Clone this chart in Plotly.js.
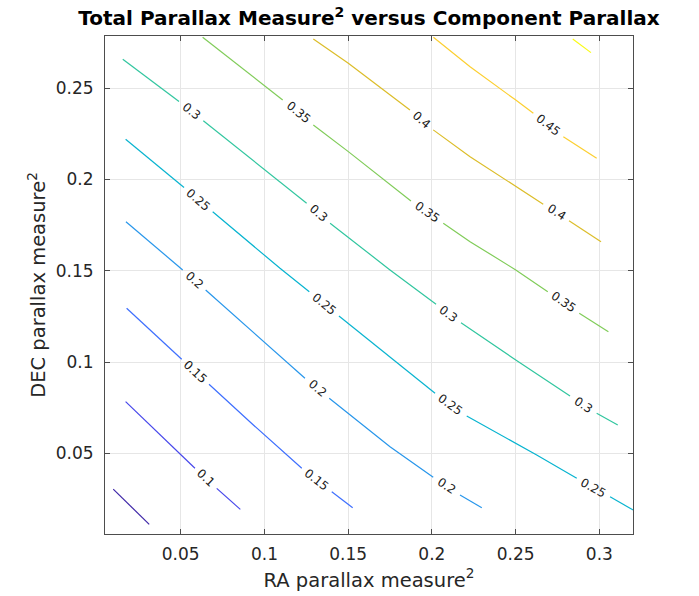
<!DOCTYPE html>
<html>
<head>
<meta charset="utf-8">
<script src="https://cdn.plot.ly/plotly-3.0.1.min.js"></script>
<style>html,body{margin:0;padding:0;background:#fff}</style>
</head>
<body>
<div id="chart" style="width:699px;height:596px"></div>
<script>
// Contour levels
const levels = [0.05, 0.1, 0.15, 0.2, 0.25, 0.3, 0.35, 0.4, 0.45, 0.5];

// Contour line vertices (null = gap where the level label sits)
const c05x = [0.0097, 0.0312];
const c05y = [0.0304, 0.0111];
const c10x = [0.0171, 0.0585, null, 0.0715, 0.0856];
const c10y = [0.0783, 0.0418, null, 0.0308, 0.0193];
const c15x = [0.0177, 0.0506, null, 0.0669, 0.0934, 0.1223, null, 0.1402, 0.1527];
const c15y = [0.1294, 0.1015, null, 0.0878, 0.0655, 0.0418, null, 0.0290, 0.0202];
const c20x = [0.0173, 0.0512, null, 0.0649, 0.1242, null, 0.1387, 0.1501, 0.1750, 0.2008, null, 0.2168, 0.2298];
const c20y = [0.1768, 0.1504, null, 0.1394, 0.0911, null, 0.0801, 0.0719, 0.0536, 0.0369, null, 0.0272, 0.0202];
const c25x = [0.0171, 0.0520, null, 0.0691, 0.1093, 0.1268, null, 0.1445, 0.1750, 0.2019, null, 0.2208, 0.2501, 0.2626, 0.2865, null, 0.3064, 0.3203];
const c25y = [0.2220, 0.1955, null, 0.1823, 0.1513, 0.1385, null, 0.1252, 0.1028, 0.0829, null, 0.0704, 0.0555, 0.0491, 0.0363, null, 0.0262, 0.0189];
const c30x = [0.0154, 0.0490, null, 0.0635, 0.1093, 0.1252, null, 0.1392, 0.1750, 0.2025, null, 0.2174, 0.2501, 0.2825, null, 0.2984, 0.3110];
const c30y = [0.2658, 0.2426, null, 0.2321, 0.1987, 0.1869, null, 0.1760, 0.1504, 0.1316, null, 0.1215, 0.1011, 0.0814, null, 0.0719, 0.0655];
const c35x = [0.0631, 0.1109, null, 0.1292, 0.1501, 0.1875, null, 0.2068, 0.2228, 0.2501, 0.2692, null, 0.2880, 0.3054];
const c35y = [0.2778, 0.2435, null, 0.2298, 0.2152, 0.1882, null, 0.1760, 0.1659, 0.1504, 0.1385, null, 0.1267, 0.1166];
const c40x = [0.1292, 0.1501, 0.1869, null, 0.2008, 0.2228, 0.2665, null, 0.2819, 0.3010];
const c40y = [0.2769, 0.2636, 0.2380, null, 0.2271, 0.2124, 0.1864, null, 0.1774, 0.1659];
const c45x = [0.2009, 0.2228, 0.2501, 0.2606, null, 0.2785, 0.2984];
const c45y = [0.2778, 0.2617, 0.2434, 0.2362, null, 0.2234, 0.2116];
const c50x = [0.2841, 0.2950];
const c50y = [0.2769, 0.2694];

// Tick labels
const xTickVals = [0.05, 0.1, 0.15, 0.2, 0.25, 0.3];
const xTickText = ['0.05', '0.1', '0.15', '0.2', '0.25', '0.3'];
const yTickVals = [0.05, 0.1, 0.15, 0.2, 0.25];
const yTickText = ['0.05', '0.1', '0.15', '0.2', '0.25'];

// Styles
const levelColors = ['#3e26a8', '#4747eb', '#3e6ffe', '#2796eb', '#08b4d0',
                     '#31c69f', '#80cc59', '#dcbd29', '#fccf30', '#f9fb14'];
const xRange = [0.00479, 0.3201];
const yRange = [0.00582, 0.2785];
const W = 699, H = 596;
const M = {l: 105, r: 66, t: 36, b: 62};
const plotW = W - M.l - M.r, plotH = H - M.t - M.b;
const FONT = 'DejaVu Sans, Arial, sans-serif';

const lineXs = [c05x, c10x, c15x, c20x, c25x, c30x, c35x, c40x, c45x, c50x];
const lineYs = [c05y, c10y, c15y, c20y, c25y, c30y, c35y, c40y, c45y, c50y];

const traces = [];
const annotations = [];
function toPx(x, y) {
  return [(x - xRange[0]) / (xRange[1] - xRange[0]) * plotW,
          -(y - yRange[0]) / (yRange[1] - yRange[0]) * plotH];
}
levels.forEach((lv, i) => {
  const xs = lineXs[i], ys = lineYs[i];
  traces.push({
    type: 'scatter', mode: 'lines', x: xs, y: ys,
    line: {color: levelColors[i], width: 1.2},
    connectgaps: false, hoverinfo: 'skip', showlegend: false
  });
  for (let k = 1; k < xs.length - 1; k++) {
    if (xs[k] === null) {
      const xa = xs[k - 1], ya = ys[k - 1], xb = xs[k + 1], yb = ys[k + 1];
      const pa = toPx(xa, ya), pb = toPx(xb, yb);
      const ang = Math.atan2(pb[1] - pa[1], pb[0] - pa[0]) * 180 / Math.PI;
      annotations.push({
        x: (xa + xb) / 2, y: (ya + yb) / 2, xref: 'x', yref: 'y',
        text: String(lv), showarrow: false, textangle: ang,
        font: {family: FONT, size: 12, color: '#1a1a1a'},
        xanchor: 'center', yanchor: 'middle'
      });
    }
  }
});

const axisCommon = {
  ticks: 'inside', ticklen: 5, tickwidth: 1, tickcolor: '#4d4d4d',
  showline: true, linecolor: '#4d4d4d', linewidth: 1, mirror: 'ticks',
  showgrid: true, gridcolor: '#e6e6e6', gridwidth: 1, zeroline: false,
  tickfont: {family: FONT, size: 17, color: '#262626'},
  fixedrange: true
};

const layout = {
  width: W, height: H,
  margin: M,
  paper_bgcolor: '#ffffff', plot_bgcolor: '#ffffff',
  title: {
    text: '<b>Total Parallax Measure<sup>2</sup> versus Component Parallax</b>',
    font: {family: FONT, size: 20, color: '#000000'},
    x: 0.5, xref: 'paper', xanchor: 'center',
    y: 1 - 18 / H, yref: 'container', yanchor: 'middle'
  },
  xaxis: Object.assign({}, axisCommon, {
    range: xRange, tickmode: 'array', tickvals: xTickVals, ticktext: xTickText,
    ticklabelstandoff: 5,
    title: {text: 'RA parallax measure<sup>2</sup>', font: {family: FONT, size: 19.5, color: '#262626'}, standoff: 9}
  }),
  yaxis: Object.assign({}, axisCommon, {
    range: yRange, tickmode: 'array', tickvals: yTickVals, ticktext: yTickText,
    ticklabelstandoff: 7,
    title: {text: 'DEC parallax measure<sup>2</sup>', font: {family: FONT, size: 19.5, color: '#262626'}, standoff: 4}
  }),
  annotations: annotations
};

Plotly.newPlot('chart', traces, layout, {displayModeBar: false, staticPlot: true});
</script>
</body>
</html>
